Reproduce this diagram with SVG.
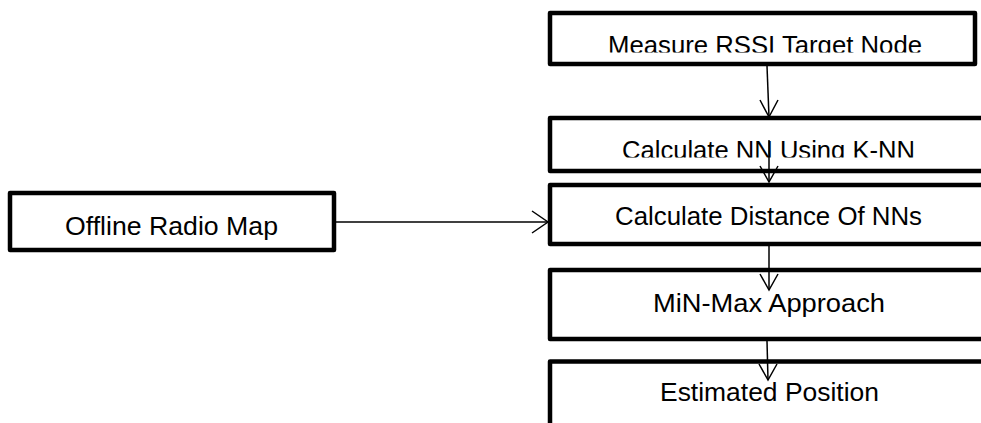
<svg xmlns="http://www.w3.org/2000/svg" width="981" height="423" viewBox="0 0 981 423">
<style>
.box{fill:#fff;stroke:#000;stroke-width:4.5;stroke-linejoin:round}
.lbl{font-family:"Liberation Sans",Arial,sans-serif;font-size:26px;fill:#000;text-anchor:middle}
.conn{stroke:#000;stroke-width:1.5;fill:none}
.head{stroke:#000;stroke-width:1.5;fill:none}
</style>
<defs>
<clipPath id="c1"><rect x="550" y="13" width="425" height="39.5"/></clipPath>
<clipPath id="c2"><rect x="550" y="118" width="440" height="39.5"/></clipPath>
</defs>
<rect width="981" height="423" fill="#fff"/>
<g id="n1"><rect class="box" x="550" y="13" width="425" height="51"/><text class="lbl" x="765" y="53.5" textLength="314" lengthAdjust="spacingAndGlyphs" clip-path="url(#c1)">Measure RSSI Target Node</text></g>
<g id="n2"><rect class="box" x="550" y="118" width="440" height="53"/><text class="lbl" x="768.5" y="158.5" textLength="293" lengthAdjust="spacingAndGlyphs" clip-path="url(#c2)">Calculate NN Using K-NN</text></g>
<g id="n3"><rect class="box" x="550" y="185" width="440" height="59"/><text class="lbl" x="768.5" y="225" textLength="307" lengthAdjust="spacingAndGlyphs">Calculate Distance Of NNs</text></g>
<g id="n4"><rect class="box" x="550" y="270" width="440" height="69"/><text class="lbl" x="769" y="312" textLength="232" lengthAdjust="spacingAndGlyphs">MiN-Max Approach</text></g>
<g id="n5"><rect class="box" x="550" y="361.5" width="440" height="70"/><text class="lbl" x="769.5" y="401" textLength="219" lengthAdjust="spacingAndGlyphs">Estimated Position</text></g>
<g id="n0"><rect class="box" x="10" y="193" width="324" height="57"/><text class="lbl" x="171.5" y="235" textLength="213" lengthAdjust="spacingAndGlyphs">Offline Radio Map</text></g>
<g id="connectors">
<line class="conn" x1="767" y1="66" x2="769" y2="117"/><polyline class="head" points="760,100 769,117 778,100"/>
<line class="conn" x1="769" y1="140" x2="769" y2="182"/><polyline class="head" points="760,166 769,182 778,166"/>
<line class="conn" x1="769" y1="246" x2="769" y2="290"/><polyline class="head" points="760,274 769,290 778,274"/>
<line class="conn" x1="767" y1="341" x2="768" y2="380"/><polyline class="head" points="759,364 768,380 777,364"/>
<line class="conn" x1="336" y1="222" x2="548" y2="222"/><polyline class="head" points="532,211 548,222 532,233"/>
</g>
</svg>
